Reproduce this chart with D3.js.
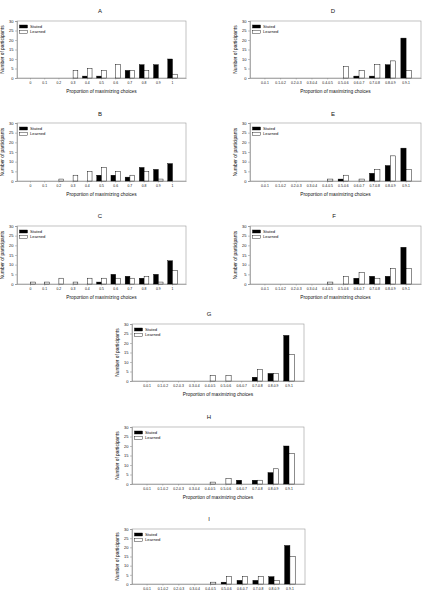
<!DOCTYPE html>
<html>
<head>
<meta charset="utf-8">
<script src="https://cdn.jsdelivr.net/npm/d3@7"></script>
<style>
  html, body { margin: 0; padding: 0; background: #fff; }
  svg { display: block; }
  text { font-family: "Liberation Sans", Arial, sans-serif; fill: #111; }
</style>
</head>
<body>
<svg id="chart" width="424" height="592"></svg>
<script>
// ---- data ----
const catsPoint = ["0", "0.1", "0.2", "0.3", "0.4", "0.5", "0.6", "0.7", "0.8", "0.9", "1"];
const catsRange = ["0-0.1", "0.1-0.2", "0.2-0.3", "0.3-0.4", "0.4-0.5", "0.5-0.6", "0.6-0.7", "0.7-0.8", "0.8-0.9", "0.9-1"];
const yTicks = [0, 5, 10, 15, 20, 25, 30];
const seriesNames = ["Stated", "Learned"];
const panelTitles = ["A", "B", "C", "D", "E", "F", "G", "H", "I"];

const statedA  = [0, 0, 0, 0, 1, 1, 0, 4, 7, 7, 10];
const learnedA = [0, 0, 0, 4, 5, 4, 7, 4, 4, 0, 2];
const statedB  = [0, 0, 0, 0, 0, 3, 3, 2, 7, 6, 9];
const learnedB = [0, 0, 1, 3, 5, 7, 5, 3, 5, 1, 0];
const statedC  = [0, 0, 0, 0, 0, 1, 5, 4, 3, 5, 12];
const learnedC = [1, 1, 3, 1, 3, 3, 3, 3, 4, 1, 7];
const statedD  = [0, 0, 0, 0, 0, 0, 1, 1, 7, 21];
const learnedD = [0, 0, 0, 0, 0, 6, 4, 7, 9, 4];
const statedE  = [0, 0, 0, 0, 0, 1, 0, 4, 8, 17];
const learnedE = [0, 0, 0, 0, 1, 3, 1, 6, 13, 6];
const statedF  = [0, 0, 0, 0, 0, 0, 3, 4, 4, 19];
const learnedF = [0, 0, 0, 0, 1, 4, 6, 3, 8, 8];
const statedG  = [0, 0, 0, 0, 0, 0, 0, 2, 4, 24];
const learnedG = [0, 0, 0, 0, 3, 3, 0, 6, 4, 14];
const statedH  = [0, 0, 0, 0, 0, 0, 2, 2, 6, 20];
const learnedH = [0, 0, 0, 0, 1, 3, 0, 2, 8, 16];
const statedI  = [0, 0, 0, 0, 0, 1, 2, 2, 4, 21];
const learnedI = [0, 0, 0, 0, 1, 4, 4, 4, 2, 15];

const panels = [
  {title: panelTitles[0], cats: catsPoint, stated: statedA, learned: learnedA, box: [17, 186, 21, 78],  tx: 100, ty: 11, xlab: true},
  {title: panelTitles[1], cats: catsPoint, stated: statedB, learned: learnedB, box: [17, 186, 123, 181], tx: 100, ty: 114, xlab: true},
  {title: panelTitles[2], cats: catsPoint, stated: statedC, learned: learnedC, box: [17, 186, 226, 284], tx: 100, ty: 216, xlab: true},
  {title: panelTitles[3], cats: catsRange, stated: statedD, learned: learnedD, box: [250, 421, 21, 78],  tx: 333, ty: 11, xlab: true},
  {title: panelTitles[4], cats: catsRange, stated: statedE, learned: learnedE, box: [250, 421, 123, 181], tx: 333, ty: 114, xlab: true},
  {title: panelTitles[5], cats: catsRange, stated: statedF, learned: learnedF, box: [250, 421, 226, 284], tx: 334, ty: 216, xlab: true},
  {title: panelTitles[6], cats: catsRange, stated: statedG, learned: learnedG, box: [132, 304, 324, 381], tx: 209, ty: 314, xlab: true},
  {title: panelTitles[7], cats: catsRange, stated: statedH, learned: learnedH, box: [132, 304, 427, 484], tx: 209, ty: 417, xlab: true},
  {title: panelTitles[8], cats: catsRange, stated: statedI, learned: learnedI, box: [132, 305, 529, 584], tx: 209, ty: 519, xlab: false}
];

const svg = d3.select("#chart");
const axisColor = "#888";

panels.forEach(p => {
  const [L, R, T, B] = p.box;
  const g = svg.append("g");

  const x = d3.scaleBand().domain(p.cats).range([L, R]).paddingInner(0).paddingOuter(0.45);
  const y = d3.scaleLinear().domain([0, 30]).range([B, T]);
  const bw = x.step() / 3;

  // frame
  g.append("rect").attr("x", L).attr("y", T).attr("width", R - L).attr("height", B - T)
    .attr("fill", "none").attr("stroke", "#999").attr("stroke-width", 0.6);

  // y axis
  const ya = g.append("g").attr("transform", `translate(${L},0)`)
    .call(d3.axisLeft(y).tickValues(yTicks).tickSize(2).tickPadding(1.5));
  ya.select(".domain").attr("stroke", axisColor).attr("stroke-width", 0.6);
  ya.selectAll(".tick line").attr("stroke", axisColor).attr("stroke-width", 0.5);
  ya.selectAll("text").style("font-size", "4px").attr("fill", "#222");

  // x axis
  const xa = g.append("g").attr("transform", `translate(0,${B})`)
    .call(d3.axisBottom(x).tickSize(1.5).tickPadding(2.5).tickSizeOuter(0));
  xa.select(".domain").attr("stroke", axisColor).attr("stroke-width", 0.6);
  xa.selectAll(".tick line").attr("stroke", axisColor).attr("stroke-width", 0.5);
  xa.selectAll("text").style("font-size", "3.4px").attr("fill", "#222");

  // bars
  const cx = c => x(c) + x.bandwidth() / 2;
  g.selectAll(".stated").data(p.cats.map((c, i) => ({c, v: p.stated[i]})).filter(d => d.v > 0))
    .enter().append("rect")
    .attr("x", d => cx(d.c) - bw).attr("width", bw)
    .attr("y", d => y(d.v)).attr("height", d => y(0) - y(d.v))
    .attr("fill", "#000").attr("stroke", "#000").attr("stroke-width", 0.4);
  g.selectAll(".learned").data(p.cats.map((c, i) => ({c, v: p.learned[i]})).filter(d => d.v > 0))
    .enter().append("rect")
    .attr("x", d => cx(d.c)).attr("width", bw)
    .attr("y", d => y(d.v)).attr("height", d => y(0) - y(d.v))
    .attr("fill", "#fff").attr("stroke", "#000").attr("stroke-width", 0.45);

  // legend
  seriesNames.forEach((s, i) => {
    const ly = T + 4 + i * 5.3;
    g.append("rect").attr("x", L + 2.5).attr("y", ly).attr("width", 8).attr("height", 3)
      .attr("fill", i === 0 ? "#000" : "#fff").attr("stroke", "#000").attr("stroke-width", 0.4);
    g.append("text").attr("x", L + 13).attr("y", ly + 1.6).attr("dominant-baseline", "central")
      .style("font-size", "4.2px").text(s);
  });

  // title
  g.append("text").attr("x", p.tx).attr("y", p.ty).attr("text-anchor", "middle")
    .attr("dominant-baseline", "central").style("font-size", "6px").text(p.title);

  // x label (the last panel's label lies below the visible area in the reference)
  if (p.xlab) {
    g.append("text").attr("x", (L + R) / 2).attr("y", B + 13).attr("text-anchor", "middle")
      .attr("dominant-baseline", "central").style("font-size", "4.8px").text("Proportion of maximizing choices");
  }

  // y label
  g.append("text").attr("transform", `translate(${L - 15},${(T + B) / 2}) rotate(-90)`)
    .attr("text-anchor", "middle").attr("dominant-baseline", "central")
    .style("font-size", "4.8px").text("Number of participants");
});
</script>
</body>
</html>
